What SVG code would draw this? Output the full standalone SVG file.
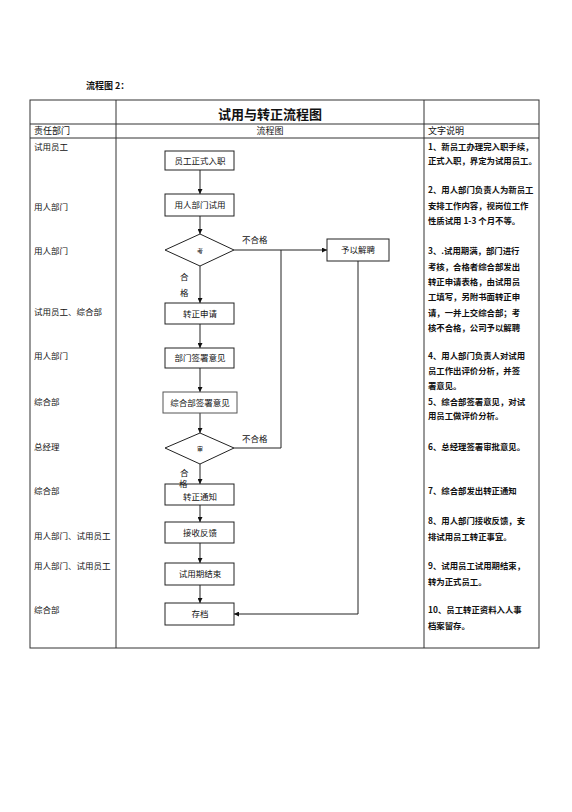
<svg xmlns="http://www.w3.org/2000/svg" width="572" height="812" viewBox="0 0 572 812">
<style>
text{font-family:"Noto Sans CJK SC","Liberation Serif",sans-serif;fill:#111}
.tbl{stroke:#333;stroke-width:1;fill:none}
.box{fill:#fff;stroke:#222;stroke-width:1}
.bt{font-size:8.5px;text-anchor:middle}
.dept{font-size:8.5px}
.desc{font-size:8.4px;font-weight:bold}
.lbl{font-size:8.5px}
.conn{stroke:#222;stroke-width:1;fill:none}
</style>
<defs>
<marker id="arr" viewBox="0 0 10 10" refX="10" refY="5" markerWidth="5" markerHeight="5" orient="auto" markerUnits="userSpaceOnUse">
<path d="M0,0 L10,5 L0,10 z" fill="#111"/>
</marker>
</defs>
<rect width="572" height="812" fill="#fff"/>
<text x="86" y="89" style="font-size:9px;font-weight:bold">流程图 2：</text>
<g id="table">
<rect class="tbl" x="30" y="100" width="509" height="548"/>
<line class="tbl" x1="30" y1="124" x2="539" y2="124"/>
<line class="tbl" x1="30" y1="138" x2="539" y2="138"/>
<line class="tbl" x1="116" y1="100" x2="116" y2="648"/>
<line class="tbl" x1="424" y1="100" x2="424" y2="648"/>
<text x="270" y="119" style="font-size:13px;font-weight:bold;text-anchor:middle">试用与转正流程图</text>
<text x="34" y="134" style="font-size:9px">责任部门</text>
<text x="270" y="134" style="font-size:9px;text-anchor:middle">流程图</text>
<text x="428" y="134" style="font-size:9px">文字说明</text>
</g>
<g id="departments">
<text class="dept" x="34" y="150">试用员工</text>
<text class="dept" x="34" y="210">用人部门</text>
<text class="dept" x="34" y="254">用人部门</text>
<text class="dept" x="34" y="315">试用员工、综合部</text>
<text class="dept" x="34" y="359">用人部门</text>
<text class="dept" x="34" y="405">综合部</text>
<text class="dept" x="34" y="450">总经理</text>
<text class="dept" x="34" y="494">综合部</text>
<text class="dept" x="34" y="539">用人部门、试用员工</text>
<text class="dept" x="34" y="569">用人部门、试用员工</text>
<text class="dept" x="34" y="613">综合部</text>
</g>
<g id="descriptions">
<text class="desc" x="428" y="150">1、新员工办理完入职手续，</text>
<text class="desc" x="428" y="164">正式入职，界定为试用员工。</text>
<text class="desc" x="428" y="193">2、用人部门负责人为新员工</text>
<text class="desc" x="428" y="209">安排工作内容，视岗位工作</text>
<text class="desc" x="428" y="224">性质试用 1-3 个月不等。</text>
<text class="desc" x="428" y="254">3、.试用期满，部门进行</text>
<text class="desc" x="428" y="270">考核，合格者综合部发出</text>
<text class="desc" x="428" y="285">转正申请表格，由试用员</text>
<text class="desc" x="428" y="300">工填写，另附书面转正申</text>
<text class="desc" x="428" y="316">请，一并上交综合部；考</text>
<text class="desc" x="428" y="331">核不合格，公司予以解聘</text>
<text class="desc" x="428" y="359">4、用人部门负责人对试用</text>
<text class="desc" x="428" y="374">员工作出评价分析，并签</text>
<text class="desc" x="428" y="389">署意见。</text>
<text class="desc" x="428" y="405">5、综合部签署意见，对试</text>
<text class="desc" x="428" y="419">用员工做评价分析。</text>
<text class="desc" x="428" y="450">6、总经理签署审批意见。</text>
<text class="desc" x="428" y="494">7、综合部发出转正通知</text>
<text class="desc" x="428" y="524">8、用人部门接收反馈，安</text>
<text class="desc" x="428" y="540">排试用员工转正事宜。</text>
<text class="desc" x="428" y="569">9、试用员工试用期结束，</text>
<text class="desc" x="428" y="585">转为正式员工。</text>
<text class="desc" x="428" y="613">10、员工转正资料入人事</text>
<text class="desc" x="428" y="629">档案留存。</text>
</g>
<g id="connectors">
<line class="conn" x1="200" y1="170" x2="200" y2="194" marker-end="url(#arr)"/>
<line class="conn" x1="200" y1="216" x2="200" y2="234" marker-end="url(#arr)"/>
<line class="conn" x1="200" y1="266" x2="200" y2="303" marker-end="url(#arr)"/>
<line class="conn" x1="200" y1="324" x2="200" y2="348" marker-end="url(#arr)"/>
<line class="conn" x1="200" y1="368" x2="200" y2="392" marker-end="url(#arr)"/>
<line class="conn" x1="200" y1="413" x2="200" y2="433" marker-end="url(#arr)"/>
<line class="conn" x1="200" y1="464" x2="200" y2="484" marker-end="url(#arr)"/>
<line class="conn" x1="200" y1="505" x2="200" y2="522" marker-end="url(#arr)"/>
<line class="conn" x1="200" y1="543" x2="200" y2="563" marker-end="url(#arr)"/>
<line class="conn" x1="200" y1="585" x2="200" y2="603" marker-end="url(#arr)"/>
<line class="conn" x1="234" y1="250" x2="327" y2="250" marker-end="url(#arr)"/>
<polyline class="conn" points="234,448 281,448 281,250"/>
<polyline class="conn" points="358,261 358,614 234,614" marker-end="url(#arr)"/>
<text class="lbl" x="242" y="243">不合格</text>
<text class="lbl" x="242" y="442">不合格</text>
<text class="lbl" x="180" y="280">合</text>
<text class="lbl" x="180" y="296">格</text>
<text class="lbl" x="180" y="476">合</text>
</g>
<g id="n1"><rect class="box" x="165" y="151" width="69" height="19"/><text class="bt" x="200" y="163.5">员工正式入职</text></g>
<g id="n2"><rect class="box" x="165" y="194" width="69" height="22"/><text class="bt" x="200" y="208">用人部门试用</text></g>
<g id="d1"><polygon class="box" points="200,234 234,250 200,266 165,250"/><text x="200" y="253" style="font-size:6px;text-anchor:middle">考</text></g>
<g id="n3"><rect class="box" x="327" y="239" width="62" height="22"/><text class="bt" x="358" y="253">予以解聘</text></g>
<g id="n4"><rect class="box" x="165" y="303" width="69" height="21"/><text class="bt" x="200" y="316.5">转正申请</text></g>
<g id="n5"><rect class="box" x="165" y="348" width="69" height="20"/><text class="bt" x="200" y="361">部门签署意见</text></g>
<g id="n6"><rect class="box" x="163" y="392" width="74" height="21" style="stroke:#555"/><text class="bt" x="200" y="405.5">综合部签署意见</text></g>
<g id="d2"><polygon class="box" points="200,433 234,448 200,464 165,448"/><text x="200" y="451" style="font-size:6px;text-anchor:middle">审</text></g>
<g id="n7"><rect class="box" x="165" y="484" width="69" height="21"/><text class="bt" x="200" y="500">转正通知</text></g>
<g id="n8"><rect class="box" x="165" y="522" width="69" height="21"/><text class="bt" x="200" y="536">接收反馈</text></g>
<g id="n9"><rect class="box" x="165" y="563" width="69" height="22"/><text class="bt" x="200" y="577">试用期结束</text></g>
<g id="n10"><rect class="box" x="165" y="603" width="69" height="22"/><text class="bt" x="200" y="617">存档</text></g>
<text class="lbl" x="179" y="487">格</text>
</svg>
